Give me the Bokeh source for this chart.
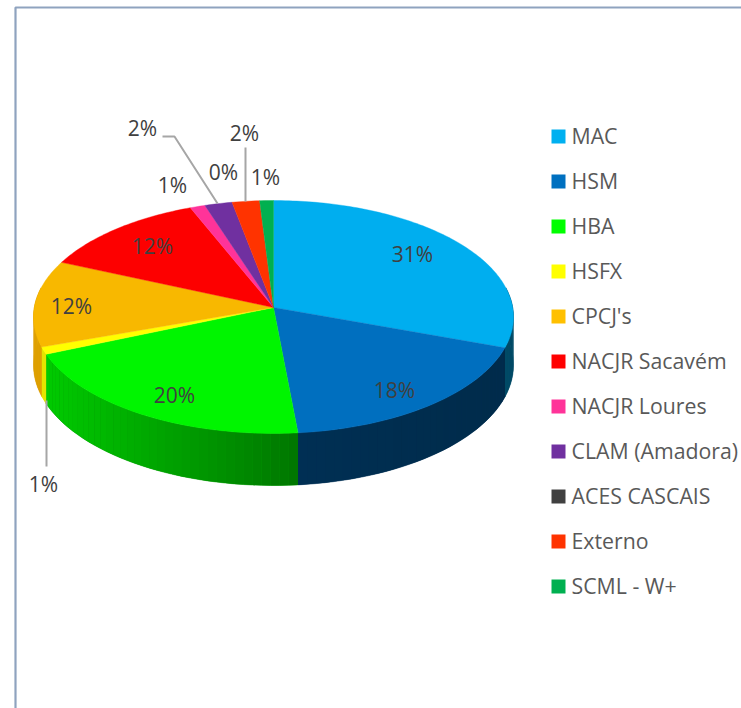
import math
from bokeh.plotting import figure
from bokeh.models import Range1d
from bokeh.core.properties import value
from bokeh.embed import file_html
from bokeh.resources import INLINE

categories = ["MAC", "HSM", "HBA", "HSFX", "CPCJ's", "NACJR Sacavém", "NACJR Loures",
              "CLAM (Amadora)", "ACES CASCAIS", "Externo", "SCML - W+"]
shares = [30.5, 18.0, 20.1, 1.0, 12.0, 12.3, 1.1, 2.0, 0.0, 2.0, 1.0]
share_labels = ["31%", "18%", "20%", "1%", "12%", "12%", "1%", "2%", "0%", "2%", "1%"]

top_colors = ["#00AEEF", "#006FBF", "#00F500", "#FFFF00", "#F8B800", "#FD0000", "#FF3399",
              "#7030A0", "#404040", "#FF3300", "#00B050"]
legend_colors = ["#00B0F0", "#0070C0", "#00FF00", "#FFFF00", "#FFC000", "#FF0000", "#FF3399",
                 "#7030A0", "#404040", "#FF3300", "#00B050"]
side_left = ["#004A66", "#003560", "#00CF00", "#E4E400", "#DFA000", "#900000", "#902060",
             "#401C60", "#202020", "#902000", "#006030"]
side_right = ["#004A66", "#002B4A", "#006A00", "#E4E400", "#D09600", "#900000", "#902060",
              "#401C60", "#202020", "#902000", "#006030"]

# layout (pixel space of the page)
CX, CY = 273.0, 307.0
AX, BY, K, DEPTH = 239.2, 115.7, 0.0815, 47.8
label_x = [412, 394, 174, 43, 71, 152, 172, 142, 223, 244, 265]
label_y = [253, 389, 394, 483, 305, 245, 184, 127, 171, 132, 176]
leader_xs = [[46, 46], [162, 174, 217], [245, 245]]
leader_ys = [[400, 466], [136, 136, 203], [147, 201]]
LEG_X, LEG_Y0, LEG_DY, LEG_SIZE = 558, 136, 45, 14


def rim(theta_deg, drop=0.0):
    t = math.radians(theta_deg)
    w = 1 + K * math.cos(t)
    return CX + AX * math.sin(t) / w, CY - BY * math.cos(t) / w + drop / w


def lerp_hex(a, b, f):
    ca = [int(a[i:i + 2], 16) for i in (1, 3, 5)]
    cb = [int(b[i:i + 2], 16) for i in (1, 3, 5)]
    return "#%02x%02x%02x" % tuple(round(u + (v - u) * f) for u, v in zip(ca, cb))


total = sum(shares)
starts, ends, acc = [], [], 0.0
for s in shares:
    starts.append(acc / total * 360)
    acc += s
    ends.append(acc / total * 360)

p = figure(width=741, height=708, x_range=Range1d(0, 741), y_range=Range1d(708, 0),
           output_backend="svg", toolbar_location=None, min_border=0,
           outline_line_color=None, background_fill_color="white", border_fill_color="white")
p.axis.visible = False
p.grid.visible = False

# panel frame
p.line([15, 15, 741], [708, 7, 7], line_color="#8FA3BF", line_width=2.2)

# pie wall: a solid base per slice, then narrow strips that shade from left to right
base_x, base_y, base_c = [], [], []
strips_x, strips_y, strips_c = [], [], []
for i, (a, b) in enumerate(zip(starts, ends)):
    lo, hi = max(a, 80.0), min(b, 280.0)
    if hi <= lo:
        continue
    n = max(1, int((hi - lo) / 2.0))
    ts = [lo + (hi - lo) * j / n for j in range(n + 1)]
    upper = [rim(t) for t in ts]
    lower = [rim(t, DEPTH) for t in ts]
    ring = upper + lower[::-1]
    base_x.append([q[0] for q in ring])
    base_y.append([q[1] for q in ring])
    base_c.append(lerp_hex(side_left[i], side_right[i], 0.5))
    for j in range(n):
        xm = (upper[j][0] + upper[j + 1][0]) / 2
        f = (xm - (CX - AX)) / (2 * AX)
        col = lerp_hex(side_left[i], side_right[i], max(0.0, min(1.0, f * 1.6 if i == 2 else f)))
        strips_x.append([upper[j][0], upper[j + 1][0], lower[j + 1][0], lower[j][0]])
        strips_y.append([upper[j][1], upper[j + 1][1], lower[j + 1][1], lower[j][1]])
        strips_c.append(col)
p.patches(base_x, base_y, fill_color=base_c, line_color=base_c, line_width=0.5)
p.patches(strips_x, strips_y, fill_color=strips_c, line_color=None)

# pie top
wx, wy, wc = [], [], []
for i, (a, b) in enumerate(zip(starts, ends)):
    if b <= a:
        continue
    n = max(2, int(b - a))
    pts = [rim(a + (b - a) * j / n) for j in range(n + 1)]
    wx.append([CX] + [q[0] for q in pts])
    wy.append([CY] + [q[1] for q in pts])
    wc.append(top_colors[i])
p.patches(wx, wy, fill_color=wc, line_color=wc, line_width=0.4)

# leader lines
p.multi_line(leader_xs, leader_ys, line_color="#A6A6A6", line_width=2)

# data labels
p.text(x=label_x, y=label_y, text=share_labels, text_color="#404040", text_font=value("Open Sans"),
       text_font_size="21px", text_align="center", text_baseline="middle")

# legend
leg_y = [LEG_Y0 + LEG_DY * i - 1 for i in range(len(categories))]
p.rect(x=[LEG_X] * len(categories), y=[y + 1 for y in leg_y], width=LEG_SIZE, height=LEG_SIZE,
       fill_color=legend_colors, line_color=None)
p.text(x=[LEG_X + 13] * len(categories), y=leg_y, text=categories, text_color="#595959",
       text_font=value("Open Sans"), text_font_size="21.3px", text_align="left", text_baseline="middle")

open("out.html", "w").write(file_html(p, INLINE))
